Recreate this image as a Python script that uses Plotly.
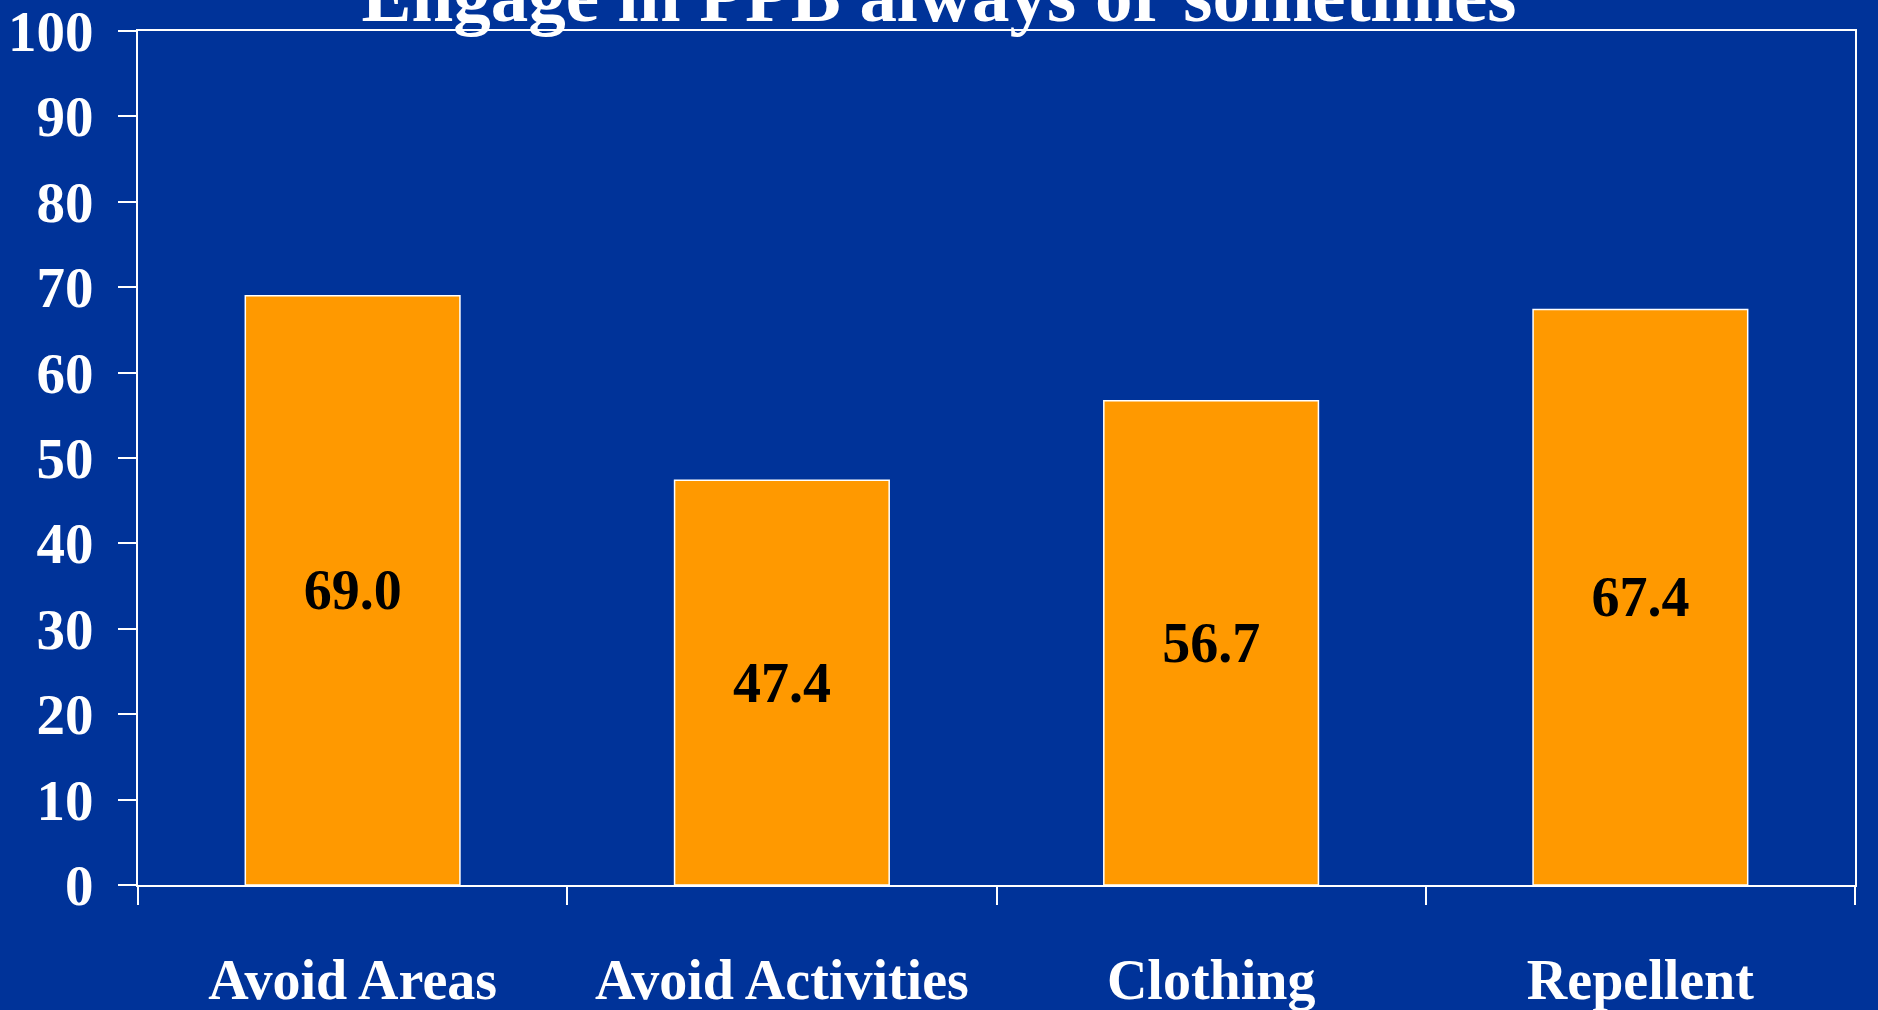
import plotly.graph_objects as go

categories = ["Avoid Areas", "Avoid Activities", "Clothing", "Repellent"]
values = [69.0, 47.4, 56.7, 67.4]
value_labels = ["69.0", "47.4", "56.7", "67.4"]
y_ticks = [0, 10, 20, 30, 40, 50, 60, 70, 80, 90, 100]
title_text = "Engage in PPB always or sometimes"

BG = "#003399"
BAR = "#FF9900"
FONT = "Liberation Serif"

fig = go.Figure(go.Bar(
    x=categories,
    y=values,
    text=value_labels,
    textposition="inside",
    insidetextanchor="middle",
    textangle=0,
    textfont=dict(family=FONT, size=56, color="black", weight="bold"),
    marker=dict(color=BAR, line=dict(color="white", width=1.5)),
    width=0.5,
    hoverinfo="skip",
    cliponaxis=False,
))

fig.update_layout(
    width=1878, height=1010,
    paper_bgcolor=BG, plot_bgcolor=BG,
    margin=dict(l=138, r=23, t=31, b=125, autoexpand=False),
    showlegend=False,
    font=dict(family=FONT, color="white"),
    uniformtext=dict(minsize=10, mode="show"),
    title=dict(
        text="<b>" + title_text + "</b>",
        font=dict(family=FONT, size=75, color="white"),
        x=0.5, xref="container", xanchor="center",
        y=1 - 21 / 1010, yref="container", yanchor="bottom",
        automargin=False,
    ),
)

fig.update_xaxes(
    automargin=False,
    showline=True, linecolor="white", linewidth=2, mirror=True,
    ticks="outside", ticklen=18, tickwidth=1.5, tickcolor="white",
    tickson="boundaries",
    tickfont=dict(family=FONT, size=56, color="white", weight="bold"),
    ticklabelstandoff=45,
    showgrid=False, zeroline=False,
)
fig.update_yaxes(
    automargin=False,
    range=[0, 100], tickvals=y_ticks, ticktext=[str(v) for v in y_ticks],
    showline=True, linecolor="white", linewidth=2, mirror=True,
    ticks="outside", ticklen=18, tickwidth=1.5, tickcolor="white",
    tickfont=dict(family=FONT, size=57, color="white", weight="bold"),
    ticklabelstandoff=13,
    ticklabeloverflow="allow",
    showgrid=False, zeroline=False,
)

fig.write_html("out.html", config={"displayModeBar": False},
               post_script="document.body.style.margin='0';")
